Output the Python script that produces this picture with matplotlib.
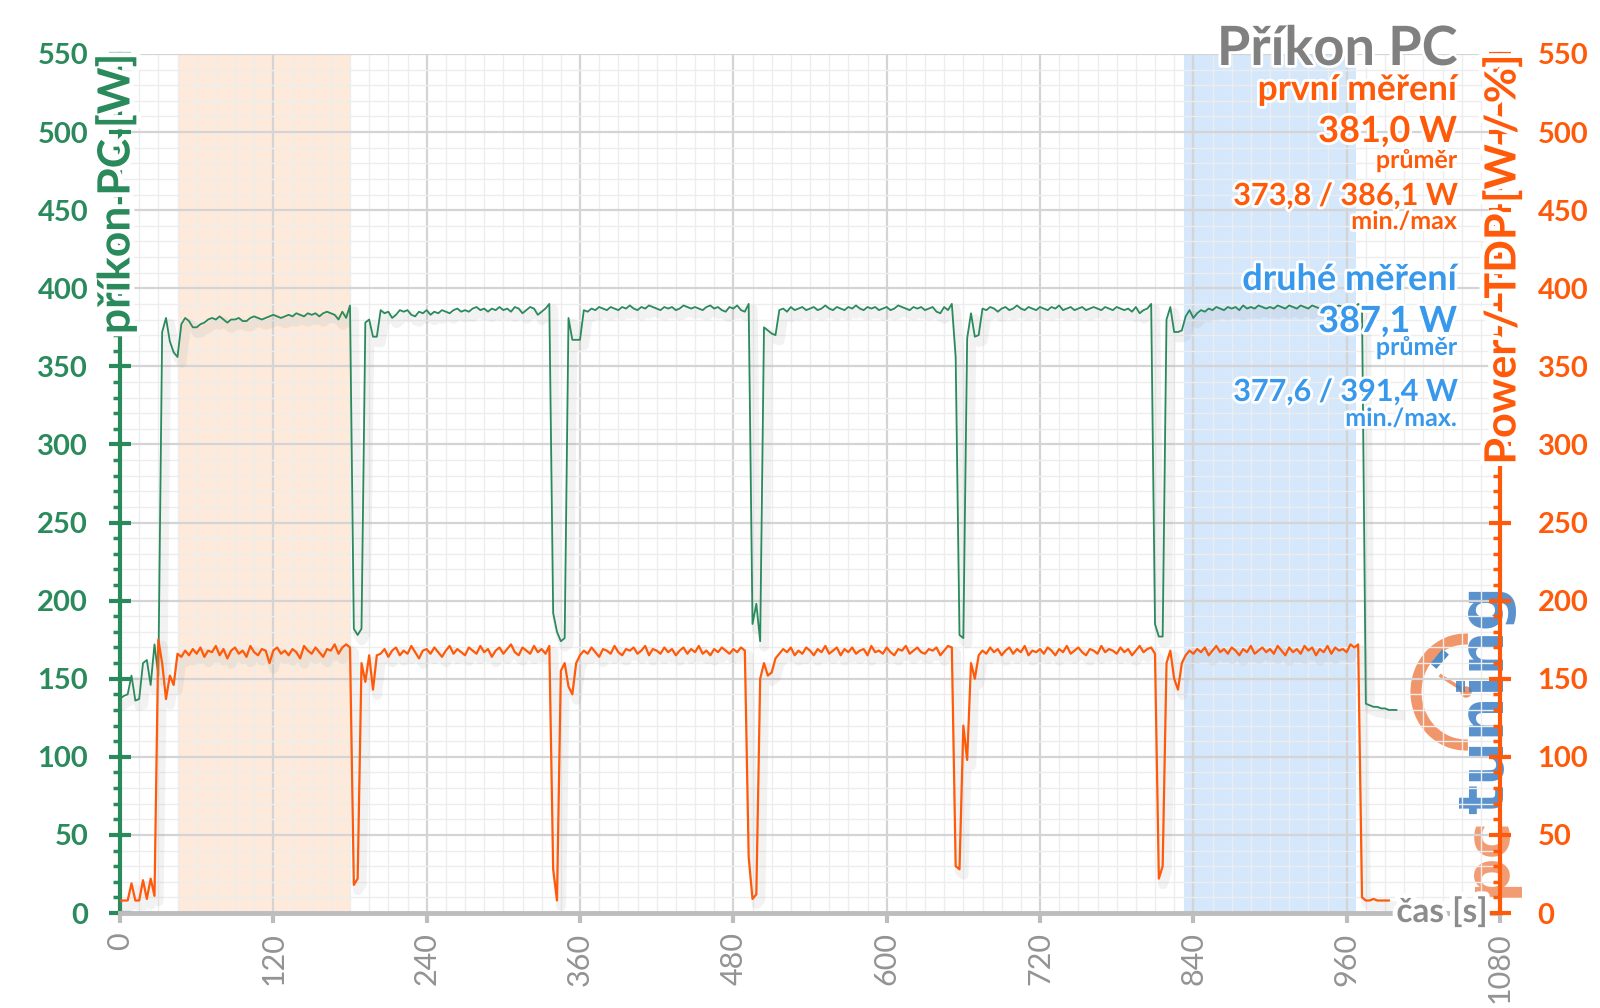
import numpy as np
import matplotlib.pyplot as plt
import matplotlib.patheffects as pe
from matplotlib.ticker import MultipleLocator
from matplotlib.patches import Arc, Circle

plt.rcParams['font.family'] = ['Lato', 'DejaVu Sans']

# time axis: one sample every 3 s
t = np.arange(0, 1000, 3)

# PC power draw [W] (left axis)
prikon = [
    137, 139, 140, 152, 136, 137, 160, 162, 146, 172,
    152, 372, 381, 366, 359, 356, 377, 381, 379, 375,
    375, 377, 378, 380, 381, 380, 382, 380, 378, 380,
    380, 381, 379, 379, 381, 382, 381, 380, 381, 382,
    383, 382, 381, 382, 383, 382, 384, 383, 382, 384,
    383, 384, 382, 384, 385, 384, 383, 380, 385, 381,
    389, 182, 178, 182, 378, 380, 369, 369, 386, 384,
    385, 381, 383, 386, 385, 386, 383, 382, 385, 384,
    386, 383, 385, 384, 386, 385, 384, 386, 387, 385,
    386, 385, 387, 388, 386, 387, 385, 387, 386, 388,
    386, 387, 385, 388, 387, 384, 386, 388, 387, 383,
    385, 387, 390, 192, 180, 174, 176, 381, 367, 367,
    367, 386, 385, 387, 386, 388, 387, 386, 388, 387,
    386, 388, 387, 389, 387, 386, 388, 387, 389, 388,
    387, 386, 388, 387, 388, 386, 387, 389, 388, 387,
    388, 387, 386, 388, 389, 387, 388, 386, 385, 388,
    387, 389, 386, 385, 390, 185, 198, 174, 375, 373,
    371, 370, 386, 387, 385, 388, 386, 387, 388, 386,
    387, 388, 386, 387, 389, 387, 386, 388, 387, 386,
    388, 387, 389, 387, 386, 388, 387, 388, 386, 387,
    388, 386, 387, 389, 388, 387, 386, 388, 387, 388,
    386, 387, 388, 385, 384, 388, 386, 390, 356, 178,
    176, 368, 384, 369, 370, 387, 386, 388, 387, 385,
    387, 388, 386, 387, 389, 387, 386, 388, 387, 386,
    388, 387, 386, 388, 387, 389, 386, 387, 388, 386,
    387, 388, 386, 387, 388, 387, 386, 388, 387, 386,
    388, 387, 386, 387, 385, 388, 384, 386, 387, 390,
    185, 177, 177, 380, 388, 372, 372, 373, 382, 386,
    381, 384, 386, 385, 387, 386, 388, 387, 386, 388,
    387, 388, 386, 389, 387, 388, 387, 389, 388, 387,
    388, 387, 389, 388, 387, 389, 388, 387, 389, 388,
    387, 389, 388, 387, 388, 389, 387, 388, 389, 388,
    389, 388, 387, 390, 388, 134, 133, 132, 132, 131,
    131, 130, 130, 130,
]

# CPU power / TDP [W / %] (right axis)
power = [
    8, 8, 8, 19, 8, 8, 21, 9, 22, 11,
    175, 160, 137, 152, 146, 166, 164, 168, 165, 169,
    166, 170, 164, 168, 167, 171, 165, 169, 163, 168,
    170, 166, 168, 164, 171, 167, 165, 169, 168, 160,
    168, 170, 166, 168, 165, 169, 167, 163, 171, 168,
    166, 170, 167, 164, 169, 168, 172, 166, 170, 172,
    170, 18, 22, 160, 148, 165, 143, 165, 166, 169,
    164, 168, 170, 165, 168, 166, 171, 167, 163, 168,
    169, 166, 170, 167, 164, 168, 171, 166, 169, 167,
    165, 170, 168, 166, 171, 167, 169, 164, 168, 170,
    166, 169, 172, 167, 165, 170, 168, 166, 171, 167,
    169, 166, 171, 28, 8, 155, 160, 145, 140, 160,
    165, 168, 166, 170, 167, 164, 169, 168, 166, 171,
    167, 165, 169, 168, 170, 166, 168, 171, 165, 169,
    168, 166, 170, 167, 169, 165, 168, 170, 166, 169,
    167, 171, 166, 168, 165, 169, 167, 170, 168, 166,
    169, 167, 170, 168, 36, 9, 12, 150, 160, 152,
    154, 163, 166, 169, 167, 170, 165, 168, 166, 170,
    168, 165, 169, 167, 171, 166, 168, 170, 165, 169,
    167, 170, 166, 168, 169, 165, 171, 167, 168, 166,
    170, 167, 165, 169, 168, 171, 166, 168, 170, 167,
    166, 169, 168, 170, 165, 168, 171, 170, 30, 28,
    120, 98, 160, 150, 165, 168, 166, 170, 167, 169,
    165, 168, 170, 166, 169, 167, 171, 165, 168, 167,
    169, 166, 170, 168, 165, 169, 167, 171, 166, 168,
    170, 167, 165, 169, 168, 166, 171, 167, 169, 168,
    166, 170, 167, 169, 165, 168, 171, 167, 169, 170,
    166, 22, 30, 160, 168, 150, 143, 160, 165, 168,
    166, 169, 167, 170, 165, 168, 171, 167, 169, 166,
    170, 168, 165, 169, 167, 171, 166, 168, 170, 167,
    169, 166, 171, 168, 165, 170, 167, 169, 166, 171,
    168, 170, 165, 169, 167, 171, 166, 170, 168, 169,
    167, 172, 170, 172, 10, 8, 8, 9, 8, 8,
    8, 8, np.nan, np.nan,
]

# highlighted measurement windows [s]
okno1 = (45, 181)
okno2 = (833, 967)

green = '#2a8a5c'
orange = '#ff5a0a'
blue = '#3798ec'
grey = '#8c8c8c'

fig = plt.figure(figsize=(16, 10.08), dpi=100)
W, H = 1600, 1008

# logo layer behind the chart
ov = fig.add_axes([0, 0, 1, 1], zorder=-1)
ov.set_xlim(0, W)
ov.set_ylim(H, 0)
ov.axis('off')
logo_o = '#f08a5a'
logo_b = '#3b7fc4'
ov.add_patch(Arc((1466, 692), 100, 106, theta1=88, theta2=272, color=logo_o, lw=8, alpha=0.9))
ov.plot([1441, 1466], [676, 692], color=logo_o, lw=2.5, alpha=0.9)
ov.add_patch(Circle((1466, 692), 5, color=logo_o, alpha=0.9))
ov.plot([1436, 1443], [663, 655], color=logo_b, lw=6, alpha=0.9)
fig.text(1486 / W, 1 - 585 / H, 'tuning', rotation=90, ha='center', va='top',
         fontsize=45, weight='bold', color=logo_b, alpha=0.85, family='DejaVu Sans', zorder=-1)
fig.text(1488 / W, 1 - 897 / H, 'pc', rotation=90, ha='center', va='bottom',
         fontsize=45, weight='bold', color=logo_o, alpha=0.85, family='DejaVu Sans', zorder=-1)

ax = fig.add_axes([120 / W, 1 - 913 / H, 1380 / W, 859 / H])
ax.patch.set_visible(False)
ax2 = ax.twinx()

ax.axvspan(*okno1, color='#fdeadb', zorder=0, lw=0)
ax.axvspan(*okno2, color='#d5e7fb', zorder=0, lw=0)

shadow = [pe.SimpleLineShadow(offset=(3, -4), shadow_color='#999999', alpha=0.12, linewidth=7), pe.Normal()]
ax.plot(t, prikon, color=green, lw=1.3, zorder=3, path_effects=shadow)
ax2.plot(t, power, color=orange, lw=1.6, zorder=3, path_effects=shadow)

ax.set_xlim(0, 1080)
ax.set_ylim(0, 550)
ax2.set_ylim(0, 550)

ax.set_axisbelow(True)
ax.xaxis.set_minor_locator(MultipleLocator(15))
ax.yaxis.set_minor_locator(MultipleLocator(10))
ax2.yaxis.set_minor_locator(MultipleLocator(10))
ax.grid(which='major', color='#d4d4d4', lw=1.6)
ax.grid(which='minor', color='#ededed', lw=1.0)

yt = list(range(0, 551, 50))
xt = list(range(0, 1081, 120))
ax.set_yticks(yt, [str(v) for v in yt], fontweight='bold', fontsize=21, color=green)
ax2.set_yticks(yt, [str(v) for v in yt], fontweight='bold', fontsize=21, color=orange)
ax.set_xticks(xt, [str(v) for v in xt], rotation=90, fontsize=22, color='#939393')

ax.tick_params(axis='y', which='major', direction='inout', length=16, width=3, color=green, pad=15)
ax.tick_params(axis='y', which='minor', direction='out', length=5, width=2.5, color=green)
ax2.tick_params(axis='y', which='major', direction='inout', length=16, width=3, color=orange, pad=19)
ax2.tick_params(axis='y', which='minor', direction='in', length=5, width=2.5, color=orange)
ax.tick_params(axis='x', which='major', direction='out', length=7, width=3, color='#bdbdbd', pad=7)
ax.tick_params(axis='x', which='minor', length=0)

for s in ['top', 'right']:
    ax.spines[s].set_visible(False)
for s in ['top', 'left', 'bottom']:
    ax2.spines[s].set_visible(False)
ax.spines['left'].set_color(green)
ax.spines['left'].set_linewidth(3)
ax.spines['bottom'].set_color('#bdbdbd')
ax.spines['bottom'].set_linewidth(3.5)
ax2.spines['right'].set_color(orange)
ax2.spines['right'].set_linewidth(3)

halo = [pe.withStroke(linewidth=7, foreground='white')]
fig.text(116 / W, 1 - 53 / H, 'příkon PC [W]', rotation=90, ha='center', va='top',
         fontsize=32, weight='bold', color=green, path_effects=halo)
fig.text(1502 / W, 1 - 55 / H, 'Power / TDP [W / %]', rotation=90, ha='center', va='top',
         fontsize=31, weight='bold', color=orange, path_effects=halo)
fig.text(1488 / W, 1 - 912 / H, 'čas [s]', ha='right', va='center',
         fontsize=24, weight='bold', color=grey, path_effects=halo)

halo2 = [pe.withStroke(linewidth=4, foreground='white')]
fig.text(1457 / W, 1 - 65 / H, 'Příkon PC', ha='right', va='baseline',
         fontsize=39, weight='bold', color='#808080', path_effects=halo2)

popisky = [
    ('první měření', 100, 25.5, orange),
    ('381,0 W', 142, 26, orange),
    ('průměr', 168, 18, orange),
    ('373,8 / 386,1 W', 205, 22, orange),
    ('min./max', 229, 18, orange),
    ('druhé měření', 290, 26, blue),
    ('387,1 W', 332, 26, blue),
    ('průměr', 355, 18, blue),
    ('377,6 / 391,4 W', 401, 22, blue),
    ('min./max.', 426, 18, blue),
]
for txt, y, fs, c in popisky:
    fig.text(1457 / W, 1 - y / H, txt, ha='right', va='baseline',
             fontsize=fs, weight='bold', color=c, path_effects=halo2)

plt.savefig('out.png', dpi=100)
